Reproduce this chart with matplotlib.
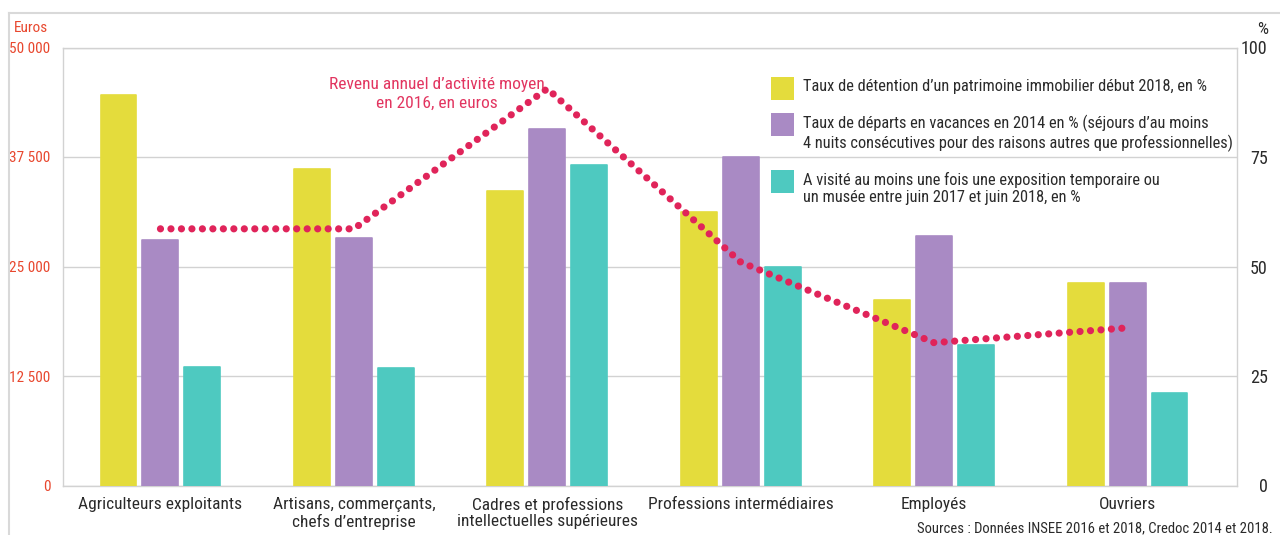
import matplotlib
matplotlib.use("Agg")
import matplotlib.pyplot as plt
from matplotlib import font_manager as fm
from matplotlib.patches import Rectangle
from matplotlib.lines import Line2D
import numpy as np

# ---------------- data ----------------
categories = ["Agriculteurs exploitants",
              "Artisans, commerçants,\nchefs d’entreprise",
              "Cadres et professions\nintellectuelles supérieures",
              "Professions intermédiaires",
              "Employés",
              "Ouvriers"]
patrimoine = [89.2, 72.3, 67.2, 62.4, 42.4, 46.2]
vacances = [56.0, 56.5, 81.4, 75.0, 57.0, 46.2]
musee = [27.0, 26.8, 73.2, 49.9, 32.0, 21.1]
revenu = [29300, 29300, 45300, 25500, 16300, 18000]

series_labels = ["Taux de détention d’un patrimoine immobilier début 2018, en %",
                 "Taux de départs en vacances en 2014 en % (séjours d’au moins\n4 nuits consécutives pour des raisons autres que professionnelles)",
                 "A visité au moins une fois une exposition temporaire ou\nun musée entre juin 2017 et juin 2018, en %"]
line_label = "Revenu annuel d’activité moyen\nen 2016, en euros"
euro_ticks = [0, 12500, 25000, 37500, 50000]
euro_ticklabels = ["0", "12 500", "25 000", "37 500", "50 000"]
pct_ticks = [0, 25, 50, 75, 100]
pct_ticklabels = ["0", "25", "50", "75", "100"]
source = "Sources : Données INSEE 2016 et 2018, Credoc 2014 et 2018."

# ---------------- fonts ----------------
names = {f.name for f in fm.fontManager.ttflist}
FONT = "DejaVu Sans"
for cand in ["Liberation Sans Narrow", "Roboto Condensed", "Open Sans Condensed",
             "DejaVu Sans Condensed", "Roboto"]:
    if cand in names:
        FONT = cand
        break
plt.rcParams["font.family"] = [FONT, "DejaVu Sans"]

YELLOW = "#e4dc3c"
PURPLE = "#a98ac4"
TEAL = "#4ec9c0"
RED_LINE = "#e0245a"
RED_TXT = "#e23560"
AXIS_RED = "#e8472e"
GRID = "#d2d2d2"
TXT = "#2a2a2a"

W, H = 1280, 535
fig = plt.figure(figsize=(W / 100, H / 100), dpi=100)
fig.patch.set_facecolor("white")

def fx(px):
    return px / W

def fy(py):
    return 1 - py / H

ax = fig.add_axes([fx(63), fy(485.5), fx(1237) - fx(63), fy(47.5) - fy(485.5)])
ax2 = ax.twinx()

x = np.arange(len(categories))
bw = 0.186
off = 0.217
for xs, vals, col in [(x - off, patrimoine, YELLOW), (x, vacances, PURPLE), (x + off, musee, TEAL)]:
    ax.bar(xs, vals, bw, color=col, edgecolor=col, linewidth=1.2,
           joinstyle="round", zorder=3)
ax.set_xlim(-0.504, 5.566)
ax.set_ylim(0, 100)
ax.set_yticks(pct_ticks)
ax.set_yticklabels(pct_ticklabels)
ax.yaxis.tick_right()
ax.tick_params(axis="y", length=0, pad=22, labelsize=13, labelcolor=TXT)
for lab in ax.get_yticklabels():
    lab.set_horizontalalignment("right")
ax.set_xticks(x)
ax.set_xticklabels(categories, fontsize=12.5, color=TXT, linespacing=1.15)
ax.tick_params(axis="x", length=0, pad=8)
ax.grid(axis="y", color=GRID, linewidth=1, zorder=0)
for s in ax.spines.values():
    s.set_color(GRID)
    s.set_linewidth(1)

ax2.set_ylim(0, 50000)
ax2.set_yticks(euro_ticks)
ax2.set_yticklabels(euro_ticklabels)
ax2.yaxis.tick_left()
ax2.tick_params(axis="y", length=0, pad=9, labelsize=11, labelcolor=AXIS_RED)
for s in ax2.spines.values():
    s.set_visible(False)
ax2.plot(x, revenu, color=RED_LINE, linewidth=5.2,
         linestyle=(0, (0.001, 1.45)), dash_capstyle="round", zorder=5)

# axis unit labels
fig.text(fx(48), fy(28), "Euros", color=AXIS_RED, fontsize=11, ha="right", va="center")
fig.text(fx(1268), fy(30), "%", color=TXT, fontsize=12.5, ha="right", va="center")

# line annotation
fig.text(fx(437), fy(94), line_label, color=RED_TXT, fontsize=12.5, ha="center",
         va="center", linespacing=1.3)

# legend (manual)
colors = [YELLOW, PURPLE, TEAL]
sq_top = [77, 113, 170]
for c, lab, top in zip(colors, series_labels, sq_top):
    fig.patches.append(Rectangle((fx(771), fy(top + 23)), fx(23), 23 / H,
                                 transform=fig.transFigure, facecolor=c,
                                 edgecolor="none", figure=fig))
    fig.text(fx(803), fy(top + 2), lab, color=TXT, fontsize=11.8, ha="left",
             va="top", linespacing=1.2)

# source
fig.text(fx(1273), fy(528), source, color=TXT, fontsize=10.5, ha="right", va="center")

# outer frame
fig.add_artist(Line2D([fx(9), 1], [fy(13), fy(13)], color="#d9d9d9", lw=1.5,
                      transform=fig.transFigure))
fig.add_artist(Line2D([fx(9), fx(9)], [0, fy(13)], color="#d9d9d9", lw=1.5,
                      transform=fig.transFigure))

fig.savefig("out.png", dpi=100, facecolor="white")
